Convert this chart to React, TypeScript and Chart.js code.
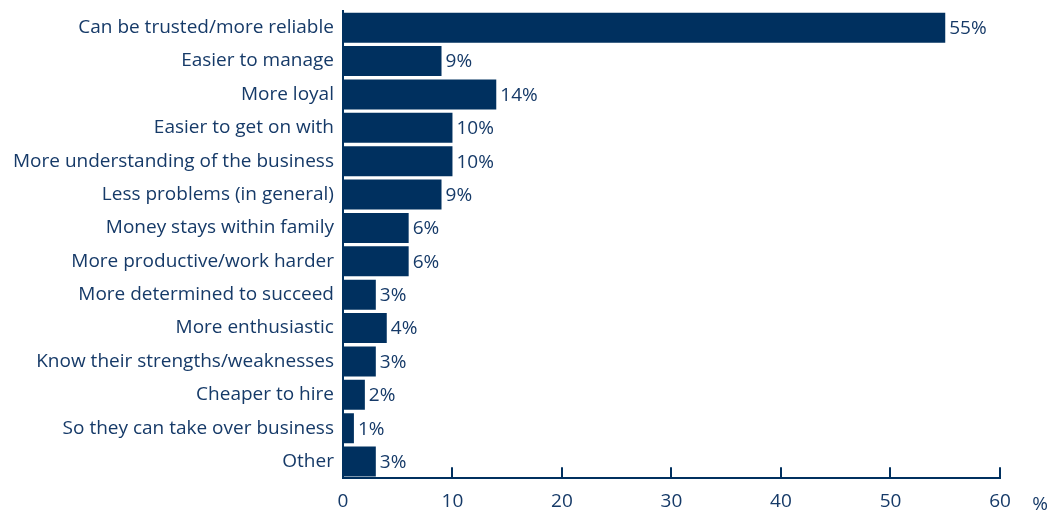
import React, { useEffect, useRef } from "react";
import { Chart, registerables } from "chart.js";

Chart.register(...registerables);

const categories = [
  "Can be trusted/more reliable",
  "Easier to manage",
  "More loyal",
  "Easier to get on with",
  "More understanding of the business",
  "Less problems (in general)",
  "Money stays within family",
  "More productive/work harder",
  "More determined to succeed",
  "More enthusiastic",
  "Know their strengths/weaknesses",
  "Cheaper to hire",
  "So they can take over business",
  "Other",
];
const values = [55, 9, 14, 10, 10, 9, 6, 6, 3, 4, 3, 2, 1, 3];
const xTicks = [0, 10, 20, 30, 40, 50, 60];
const unitLabel = "%";

const NAVY = "#00305f";
const TEXT = "#163a68";
const FONT = "'Open Sans', sans-serif";
const FS = 19;

export default function App() {
  const ref = useRef<HTMLCanvasElement | null>(null);
  useEffect(() => {
    const canvas = ref.current;
    if (!canvas) return;
    const extras = {
      id: "extras",
      afterDatasetsDraw(chart: any) {
        const ctx = chart.ctx;
        const meta = chart.getDatasetMeta(0);
        ctx.save();
        ctx.fillStyle = TEXT;
        ctx.font = `${FS}px ${FONT}`;
        ctx.textBaseline = "middle";
        ctx.textAlign = "left";
        meta.data.forEach((bar: any, i: number) => {
          ctx.fillText(values[i] + "%", bar.x + 4, bar.y + 1);
        });
        const xs = chart.scales.x;
        const bottom = chart.chartArea.bottom;
        ctx.strokeStyle = NAVY;
        ctx.lineWidth = 2;
        xTicks.forEach((t) => {
          if (t === 0) return;
          const px = Math.round(xs.getPixelForValue(t));
          ctx.beginPath();
          ctx.moveTo(px, bottom);
          ctx.lineTo(px, bottom - 11);
          ctx.stroke();
        });
        ctx.textAlign = "center";
        ctx.fillText(unitLabel, xs.getPixelForValue(60) + 40, bottom + 26);
        ctx.restore();
      },
    };
    const chart = new Chart(canvas, {
      type: "bar",
      data: {
        labels: categories,
        datasets: [
          {
            data: values,
            backgroundColor: NAVY,
            borderWidth: 0,
            barPercentage: 0.9,
            categoryPercentage: 1,
          },
        ],
      },
      options: {
        indexAxis: "y",
        animation: false,
        responsive: false,
        maintainAspectRatio: false,
        layout: { padding: { top: 11, right: 52, bottom: -10, left: 4 } },
        plugins: { legend: { display: false }, tooltip: { enabled: false } },
        scales: {
          x: {
            min: 0,
            max: 60,
            afterBuildTicks: (axis: any) => {
              axis.ticks = xTicks.map((v) => ({ value: v }));
            },
            grid: { display: false, drawTicks: false },
            border: { display: true, color: NAVY, width: 2 },
            ticks: {
              color: TEXT,
              font: { family: FONT, size: FS },
              padding: 12,
              maxRotation: 0,
            },
          },
          y: {
            afterFit: (axis: any) => {
              axis.paddingTop = 0;
              axis.paddingBottom = 0;
            },
            grid: { display: false, drawTicks: false },
            border: { display: true, color: NAVY, width: 2 },
            ticks: {
              color: TEXT,
              font: { family: FONT, size: FS },
              padding: 9,
            },
          },
        },
      },
      plugins: [extras],
    });
    return () => chart.destroy();
  }, []);
  return (
    <div style={{ position: "fixed", left: 0, top: 0, width: 1052, height: 515, background: "#fff" }}>
      <canvas ref={ref} width={1052} height={515} style={{ display: "block" }} />
    </div>
  );
}
